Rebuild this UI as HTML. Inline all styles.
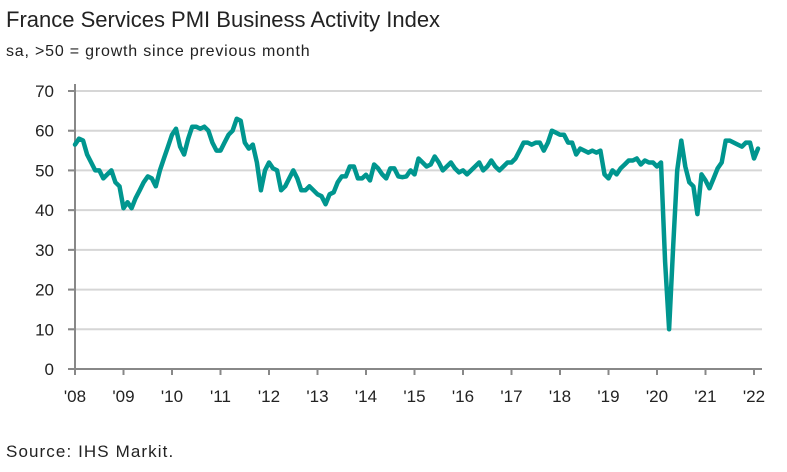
<!DOCTYPE html>
<html><head><meta charset="utf-8"><style>
body{margin:0;background:#fff;font-family:"Liberation Sans",sans-serif;}
#wrap{position:relative;width:787px;height:472px;overflow:hidden;}
.t{position:absolute;color:#222;white-space:nowrap;}
</style></head><body>
<div id="wrap">
<div class="t" style="left:6px;top:7px;font-size:22px;">France Services PMI Business Activity Index</div>
<div class="t" style="left:6px;top:43px;font-size:16px;letter-spacing:0.8px;">sa, &gt;50 = growth since previous month</div>
<div class="t" style="left:6px;top:442px;font-size:17px;letter-spacing:1.1px;">Source: IHS Markit.</div>
<svg id="svg" width="787" height="472" style="position:absolute;left:0;top:0"></svg>
</div>
<script>
const yTicks=[0,10,20,30,40,50,60,70];
const xTickLabels=["'08","'09","'10","'11","'12","'13","'14","'15","'16","'17","'18","'19","'20","'21","'22"];
const pmi2008=[56.5,58,57.5,54,52,50,50,48,49,50,47,46];
const pmi2009=[40.5,42,40.5,43,45,47,48.5,48,46,50,53,56];
const pmi2010=[59,60.5,56,54,58,61,61,60.5,61,60,57,55];
const pmi2011=[55,57,59,60,63,62.5,57,55.5,56.5,52,45,50];
const pmi2012=[52,50.5,50,45,46,48,50,48,45,45,46,45];
const pmi2013=[44,43.5,41.5,44,44.5,47,48.5,48.5,51,51,48,48];
const pmi2014=[48.9,47.5,51.5,50.5,49,48,50.5,50.5,48.5,48.3,48.5,50];
const pmi2015=[49,53,52,51,51.5,53.5,52,50,51,52,50.5,49.5];
const pmi2016=[50,49,50,51,52,50,51,52.5,51,50,51,52];
const pmi2017=[52,53,55,57,57,56.5,57,57,55,57,60,59.5];
const pmi2018=[59,59,57,57,54,55.5,55,54.5,55,54.5,55,49];
const pmi2019=[48,50,49,50.5,51.5,52.5,52.5,53,51.5,52.5,52,52];
const pmi2020=[51,52,27,10,31,50,57.5,51,47,46,39,49];
const pmi2021=[47.5,45.5,48,50.5,52,57.5,57.5,57,56.5,56,57,57];
const pmi2022=[53,55.5];
const values=[].concat(pmi2008,pmi2009,pmi2010,pmi2011,pmi2012,pmi2013,pmi2014,pmi2015,pmi2016,pmi2017,pmi2018,pmi2019,pmi2020,pmi2021,pmi2022);
const NS="http://www.w3.org/2000/svg",svg=document.getElementById('svg');
const x0=75,yearW=48.5,y0=369,yTop=91;
const xs=i=>x0+i*yearW/12;
const ys=v=>y0-(v/70)*(y0-yTop);
function mk(t,a){const e=document.createElementNS(NS,t);for(const k in a)e.setAttribute(k,a[k]);svg.appendChild(e);return e;}
yTicks.forEach(v=>{
 if(v>0){const g=mk('line',{x1:68,x2:762,y1:ys(v),y2:ys(v),stroke:'#d6d6d6','stroke-width':2});
 
 }
 const tk=mk('line',{x1:68,x2:75,y1:ys(v),y2:ys(v),stroke:'#888','stroke-width':2});
 
 
 const t=mk('text',{x:54,y:ys(v)+6,'text-anchor':'end','font-size':17,fill:'#222','font-family':'Liberation Sans, sans-serif'});
 t.textContent=v;
 
 
});
const ya=mk('line',{x1:75,x2:75,y1:84,y2:369,stroke:'#888','stroke-width':2});


const xa=mk('line',{x1:68,x2:762,y1:369,y2:369,stroke:'#888','stroke-width':2});


xTickLabels.forEach((l,i)=>{
 const x=x0+i*yearW;
 const tk=mk('line',{x1:x,x2:x,y1:369,y2:375,stroke:'#888','stroke-width':2});
 
 
 const t=mk('text',{x:x,y:402,'text-anchor':'middle','font-size':17,fill:'#222','font-family':'Liberation Sans, sans-serif'});
 t.textContent=l;
 
 
});
const d=values.map((v,i)=>(i?'L':'M')+xs(i).toFixed(1)+' '+ys(v).toFixed(1)).join(' ');
const p=mk('path',{d:d,fill:'none',stroke:'#00968f','stroke-width':4.5,'stroke-linejoin':'round','stroke-linecap':'round'});


</script>
</body></html>
